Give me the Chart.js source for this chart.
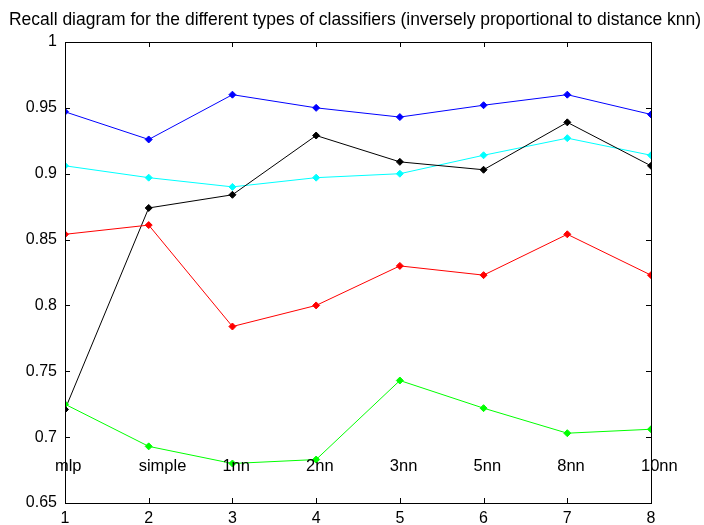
<!DOCTYPE html>
<html>
<head>
<meta charset="utf-8">
<script src="https://cdn.jsdelivr.net/npm/chart.js@4/dist/chart.umd.min.js"></script>
<style>
  html, body { margin: 0; padding: 0; background: #fff; }
  #wrap { width: 704px; height: 525px; }
</style>
</head>
<body>
<div id="wrap"><canvas id="recallChart"></canvas></div>
<script>
// --- data ---
const xValues = [1, 2, 3, 4, 5, 6, 7, 8];
const classifiers = ['mlp', 'simple', '1nn', '2nn', '3nn', '5nn', '8nn', '10nn'];
const yTicks = [0.65, 0.7, 0.75, 0.8, 0.85, 0.9, 0.95, 1];

const blueSeries  = [0.947, 0.926, 0.960, 0.950, 0.943, 0.952, 0.960, 0.945];
const cyanSeries  = [0.906, 0.897, 0.890, 0.897, 0.900, 0.914, 0.927, 0.914];
const blackSeries = [0.721, 0.874, 0.884, 0.929, 0.909, 0.903, 0.939, 0.906];
const redSeries   = [0.854, 0.861, 0.784, 0.800, 0.830, 0.823, 0.854, 0.823];
const greenSeries = [0.725, 0.693, 0.680, 0.683, 0.743, 0.722, 0.703, 0.706];

const titleText = 'Recall diagram for the different types of classifiers (inversely proportional to distance knn)';
const FONT = 'Arial, "Liberation Sans", sans-serif';

function makeSet(values, color) {
    return {
        data: values.map((v, i) => ({ x: xValues[i], y: v })),
        borderColor: color,
        backgroundColor: color,
        borderWidth: 1,
        pointStyle: 'rectRot',
        pointRadius: 3.5,
        pointBorderWidth: 1,
        tension: 0
    };
}

// box around the plot + ticks pointing inward, like matlab
const boxPlugin = {
    id: 'boxPlugin',
    afterDraw(chart) {
        const { ctx, chartArea: a, scales } = chart;
        ctx.save();
        ctx.strokeStyle = '#000';
        ctx.lineWidth = 1;
        ctx.strokeRect(Math.round(a.left) + 0.5, Math.round(a.top) + 0.5,
            Math.round(a.right - a.left), Math.round(a.bottom - a.top));
        ctx.beginPath();
        xValues.forEach(v => {
            const px = Math.round(scales.x.getPixelForValue(v)) + 0.5;
            ctx.moveTo(px, a.bottom); ctx.lineTo(px, a.bottom - 5);
            ctx.moveTo(px, a.top); ctx.lineTo(px, a.top + 5);
        });
        yTicks.forEach(v => {
            const py = Math.round(scales.y.getPixelForValue(v)) + 0.5;
            ctx.moveTo(a.left, py); ctx.lineTo(a.left + 5, py);
            ctx.moveTo(a.right, py); ctx.lineTo(a.right - 5, py);
        });
        ctx.stroke();
        ctx.restore();
    }
};

// classifier names written inside the axes at y ~ 0.679
const nameLabels = {
    id: 'nameLabels',
    afterDatasetsDraw(chart) {
        const { ctx, scales } = chart;
        ctx.save();
        ctx.font = '16.5px ' + FONT;
        ctx.fillStyle = '#000';
        ctx.textAlign = 'left';
        ctx.textBaseline = 'middle';
        classifiers.forEach((name, i) => {
            ctx.fillText(name, scales.x.getPixelForValue(xValues[i] - 0.12), scales.y.getPixelForValue(0.678));
        });
        ctx.restore();
    }
};

// title on top
const titlePlugin = {
    id: 'titlePlugin',
    afterDraw(chart) {
        const { ctx } = chart;
        ctx.save();
        ctx.font = '17.5px ' + FONT;
        ctx.fillStyle = '#000';
        ctx.textAlign = 'center';
        ctx.textBaseline = 'alphabetic';
        ctx.fillText(titleText, 355, 25);
        ctx.restore();
    }
};

const ctx = document.getElementById('recallChart').getContext('2d');
const recallChart = new Chart(ctx, {
    type: 'line',
    data: {
        datasets: [
            makeSet(greenSeries, '#00ff00'),
            makeSet(redSeries, '#ff0000'),
            makeSet(blackSeries, '#000000'),
            makeSet(cyanSeries, '#00ffff'),
            makeSet(blueSeries, '#0000ff')
        ]
    },
    options: {
        responsive: true,
        maintainAspectRatio: false,
        animation: false,
        layout: { padding: { top: 42, right: 53, left: 0, bottom: 0 } },
        plugins: {
            legend: { display: false },
            title: { display: false },
            tooltip: { enabled: false }
        },
        scales: {
            x: {
                type: 'linear',
                min: 1,
                max: 8,
                afterFit: s => { s.height = 22; },
                afterBuildTicks: s => { s.ticks = xValues.map(v => ({ value: v })); },
                grid: { display: false, drawTicks: false },
                border: { display: false },
                ticks: {
                    padding: 6,
                    color: '#000',
                    maxRotation: 0,
                    autoSkip: false,
                    font: { family: FONT, size: 16 },
                    callback: v => String(v)
                }
            },
            y: {
                min: 0.65,
                max: 1,
                afterFit: s => { s.width = 65; },
                afterBuildTicks: s => { s.ticks = yTicks.map(v => ({ value: v })); },
                grid: { display: false, drawTicks: false },
                border: { display: false },
                ticks: {
                    padding: 8,
                    color: '#000',
                    autoSkip: false,
                    font: { family: FONT, size: 16 },
                    callback: v => String(Math.round(v * 100) / 100)
                }
            }
        }
    },
    plugins: [boxPlugin, nameLabels, titlePlugin]
});
</script>
</body>
</html>
